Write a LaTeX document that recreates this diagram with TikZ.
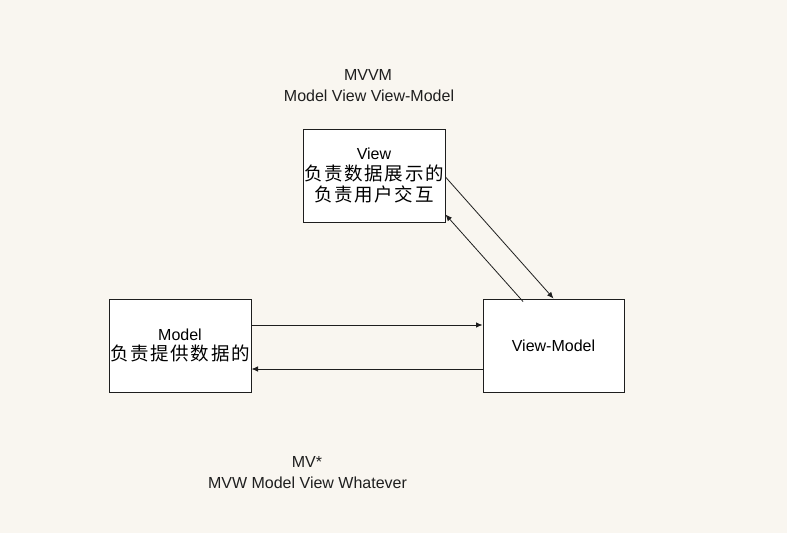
\documentclass[tikz,border=0pt]{standalone}
\usepackage{fontspec}
\setmainfont{Liberation Sans}
\newfontfamily\cjk[LetterSpace=9]{Noto Sans CJK SC}
\usetikzlibrary{arrows.meta}
\definecolor{bgc}{RGB}{249,246,240}
\definecolor{edgec}{RGB}{30,30,30}
\tikzset{
  box/.style={draw=edgec, line width=1pt, fill=white, minimum width=142pt, minimum height=93pt, inner sep=0pt, align=center, font=\fontsize{16}{20}\selectfont},
  lbl/.style={inner sep=0pt, font=\fontsize{16}{20}\selectfont, text=black!88},
  arr/.style={draw=edgec, line width=0.8pt, -{Latex[length=6.5pt,width=5.5pt]}}
}
\newcommand{\cjkline}[1]{{\cjk\fontsize{18.5}{20}\selectfont #1}}
\begin{document}
\begin{tikzpicture}[x=1pt,y=-1pt]
\fill[bgc] (0,0) rectangle (787,533);
\useasboundingbox (0,0) rectangle (787,533);
\node[lbl] (t1) at (368,75) {MVVM};
\node[lbl] (t2) at (369,96) {Model View View-Model};
\node[lbl] (b1) at (307,462) {MV*};
\node[lbl] (b2) at (307.5,483) {MVW Model View Whatever};
\node[box] (view) at (374,175.5) {View\\[1pt]\cjkline{负责数据展示的}\\[1pt]\cjkline{负责用户交互}};
\node[box] (model) at (180,345.5) {Model\\[0pt]\cjkline{负责提供数据的}};
\node[box, minimum width=141pt] (vm) at (553.5,345.5) {View-Model};
\draw[arr] ([yshift=-1.5pt]view.east) -- (vm.north);
\draw[arr] ([xshift=-30.5pt,yshift=-3pt]vm.north) -- ([yshift=8pt]view.south east);
\draw[arr] ([yshift=20.5pt]model.east) -- ([yshift=20.5pt]vm.west);
\draw[arr] ([yshift=-23.5pt]vm.west) -- ([yshift=-23.5pt]model.east);
\end{tikzpicture}
\end{document}
